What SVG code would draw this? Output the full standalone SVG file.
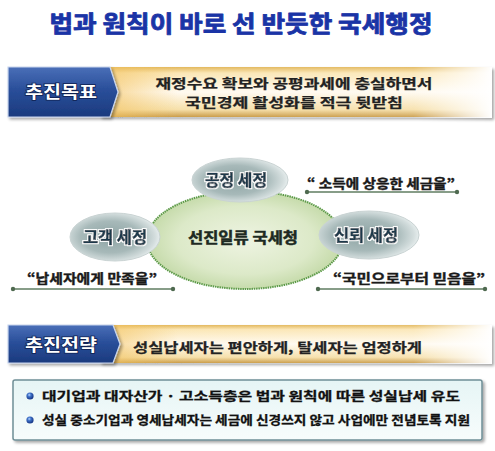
<svg xmlns="http://www.w3.org/2000/svg" width="495" height="451" viewBox="0 0 495 451">
<defs>
<linearGradient id="tagG" x1="0" y1="0" x2="0" y2="1">
<stop offset="0" stop-color="#4a6fb8"/>
<stop offset="0.45" stop-color="#2a4f9a"/>
<stop offset="1" stop-color="#1b3a7e"/>
</linearGradient>
<linearGradient id="bandV" x1="0" y1="0" x2="0" y2="1">
<stop offset="0" stop-color="#e2b658"/>
<stop offset="0.12" stop-color="#fbe6b4"/>
<stop offset="0.5" stop-color="#fffaf0"/>
<stop offset="0.85" stop-color="#f6dfa8"/>
<stop offset="1" stop-color="#c99a45"/>
</linearGradient>
<linearGradient id="bandFade" x1="0" y1="0" x2="1" y2="0">
<stop offset="0" stop-color="#ffffff" stop-opacity="0"/>
<stop offset="0.8" stop-color="#ffffff" stop-opacity="0.1"/>
<stop offset="1" stop-color="#ffffff" stop-opacity="1"/>
</linearGradient>
<linearGradient id="bandLeft" x1="0" y1="0" x2="1" y2="0">
<stop offset="0" stop-color="#f3c462" stop-opacity="0.7"/>
<stop offset="0.2" stop-color="#f3c462" stop-opacity="0"/>
</linearGradient>
<radialGradient id="pill" cx="0.45" cy="0.5" r="0.55">
<stop offset="0" stop-color="#8ea4a4"/>
<stop offset="0.6" stop-color="#a7b9b9"/>
<stop offset="0.9" stop-color="#d3dddd"/>
<stop offset="1" stop-color="#e6eded"/>
</radialGradient>
<radialGradient id="core" cx="0.5" cy="0.5" r="0.5">
<stop offset="0" stop-color="#eef4e2"/>
<stop offset="0.7" stop-color="#dce9c8"/>
<stop offset="1" stop-color="#c6dbab"/>
</radialGradient>
<linearGradient id="boxG" x1="0" y1="0" x2="0" y2="1">
<stop offset="0" stop-color="#e6f5f5"/>
<stop offset="1" stop-color="#f7fcfc"/>
</linearGradient>
<radialGradient id="bul" cx="0.4" cy="0.35" r="0.6">
<stop offset="0" stop-color="#b8d4ff"/>
<stop offset="0.4" stop-color="#3f72c9"/>
<stop offset="1" stop-color="#1a3a8a"/>
</radialGradient>
<filter id="sh" x="-5%" y="-10%" width="110%" height="130%">
<feGaussianBlur in="SourceAlpha" stdDeviation="1.5"/>
<feOffset dx="1.5" dy="2" result="b"/>
<feComponentTransfer><feFuncA type="linear" slope="0.35"/></feComponentTransfer>
<feMerge><feMergeNode/><feMergeNode in="SourceGraphic"/></feMerge>
</filter>
<filter id="halo" x="-10%" y="-30%" width="120%" height="160%">
<feMorphology in="SourceAlpha" operator="dilate" radius="1.3" result="d"/>
<feFlood flood-color="#ffffff"/>
<feComposite in2="d" operator="in"/>
<feMerge><feMergeNode/><feMergeNode in="SourceGraphic"/></feMerge>
</filter>
</defs>
<style>
text{font-family:"Noto Sans CJK KR","Noto Sans",sans-serif;font-weight:bold}
.title{font-size:23px;fill:#1a34a6;stroke:#1a34a6;stroke-width:0.8;stroke-linejoin:round}
.tag{font-size:16.5px;fill:#ffffff;stroke:#0e2050;stroke-width:1.5;paint-order:stroke}
.band{font-size:13px;fill:#222222;stroke:#222222;stroke-width:0.25}
.pilltxt{font-size:15.5px;fill:#1e3a4c;stroke:#1e3a4c;stroke-width:0.7;stroke-linejoin:round;filter:url(#halo)}
.core{font-size:14.5px;fill:#1d2a22;stroke:#1d2a22;stroke-width:0.5}
.quote{font-size:13px;fill:#1a1a1a;stroke:#1a1a1a;stroke-width:0.4}
.li{font-size:12.5px;fill:#111111;stroke:#111111;stroke-width:0.3}
.ul{stroke:#5f7d60;stroke-width:1.6}
.dot{fill:#4f6a50}
.pill{fill:url(#pill);stroke:#c9d3d3;stroke-width:1}
</style>

<text class="title" x="241" y="32" text-anchor="middle" textLength="383" lengthAdjust="spacingAndGlyphs">법과 원칙이 바로 선 반듯한 국세행정</text>

<g id="goal">
<g filter="url(#sh)">
<rect x="100" y="67" width="390" height="50" fill="url(#bandV)"/>
<rect x="100" y="67" width="390" height="50" fill="url(#bandLeft)"/>
<rect x="100" y="67" width="392" height="51" fill="url(#bandFade)"/>
</g>
<path d="M8,67 H110 L118,92 L110,117 H8 Z" fill="url(#tagG)" stroke="#c9d6ee" stroke-width="1.2" filter="url(#sh)"/>
<text class="tag" x="61" y="98" text-anchor="middle" textLength="72" lengthAdjust="spacingAndGlyphs">추진목표</text>
<text class="band" x="294" y="88" text-anchor="middle" textLength="277" lengthAdjust="spacingAndGlyphs">재정수요 확보와 공평과세에 충실하면서</text>
<text class="band" x="294" y="107" text-anchor="middle" textLength="218" lengthAdjust="spacingAndGlyphs">국민경제 활성화를 적극 뒷받침</text>
</g>

<g id="connectors">
<line class="ul" x1="307" y1="192" x2="457" y2="192"/>
<circle class="dot" cx="307" cy="192" r="2.2"/>
<circle class="dot" cx="457" cy="192" r="2.2"/>
<line class="ul" x1="13" y1="289" x2="173" y2="289"/>
<circle class="dot" cx="13" cy="289" r="2.2"/>
<circle class="dot" cx="173" cy="289" r="2.2"/>
<line class="ul" x1="318" y1="289" x2="485" y2="289"/>
<circle class="dot" cx="318" cy="289" r="2.2"/>
<circle class="dot" cx="485" cy="289" r="2.2"/>
</g>

<g id="core">
<ellipse cx="245" cy="240" rx="98" ry="49" fill="url(#core)" stroke="#5c9a48" stroke-width="2" stroke-dasharray="1.5 0.8"/>
<text class="core" x="243" y="243" text-anchor="middle" textLength="110" lengthAdjust="spacingAndGlyphs">선진일류 국세청</text>
</g>

<g id="fair">
<ellipse class="pill" cx="240" cy="180" rx="48" ry="22"/>
<text class="pilltxt" x="236" y="186" text-anchor="middle" textLength="62" lengthAdjust="spacingAndGlyphs">공정 세정</text>
</g>
<g id="customer">
<ellipse class="pill" cx="115" cy="237" rx="45" ry="24"/>
<text class="pilltxt" x="115" y="243" text-anchor="middle" textLength="64" lengthAdjust="spacingAndGlyphs">고객 세정</text>
</g>
<g id="trust">
<ellipse class="pill" cx="369" cy="235" rx="50" ry="24"/>
<text class="pilltxt" x="366" y="241" text-anchor="middle" textLength="64" lengthAdjust="spacingAndGlyphs">신뢰 세정</text>
</g>

<g id="q1"><text class="quote" x="307" y="188" textLength="148" lengthAdjust="spacingAndGlyphs">“ 소득에 상응한 세금을”</text></g>
<g id="q2"><text class="quote" x="27" y="283" textLength="130" lengthAdjust="spacingAndGlyphs">“납세자에게 만족을”</text></g>
<g id="q3"><text class="quote" x="333" y="283" textLength="152" lengthAdjust="spacingAndGlyphs">“국민으로부터 믿음을”</text></g>

<g id="strategy">
<g filter="url(#sh)">
<rect x="100" y="325" width="390" height="38" fill="url(#bandV)"/>
<rect x="100" y="325" width="390" height="38" fill="url(#bandLeft)"/>
<rect x="100" y="325" width="392" height="39" fill="url(#bandFade)"/>
</g>
<path d="M8,325 H113 L120,344 L113,363 H8 Z" fill="url(#tagG)" stroke="#c9d6ee" stroke-width="1.2" filter="url(#sh)"/>
<text class="tag" x="61" y="351" text-anchor="middle" textLength="72" lengthAdjust="spacingAndGlyphs">추진전략</text>
<text class="band" x="133" y="352" textLength="289" lengthAdjust="spacingAndGlyphs">성실납세자는 편안하게, 탈세자는 엄정하게</text>
</g>

<g id="details">
<rect x="13" y="380" width="469" height="60" rx="2" fill="url(#boxG)" stroke="#6f8f96" stroke-width="1.5" filter="url(#sh)"/>
<circle cx="30" cy="396" r="3.6" fill="url(#bul)"/>
<circle cx="30" cy="420" r="3.6" fill="url(#bul)"/>
<text class="li" x="42" y="401" textLength="418" lengthAdjust="spacingAndGlyphs">대기업과 대자산가 · 고소득층은 법과 원칙에 따른 성실납세 유도</text>
<text class="li" x="42" y="425" textLength="428" lengthAdjust="spacingAndGlyphs">성실 중소기업과 영세납세자는 세금에 신경쓰지 않고 사업에만 전념토록 지원</text>
</g>
</svg>
